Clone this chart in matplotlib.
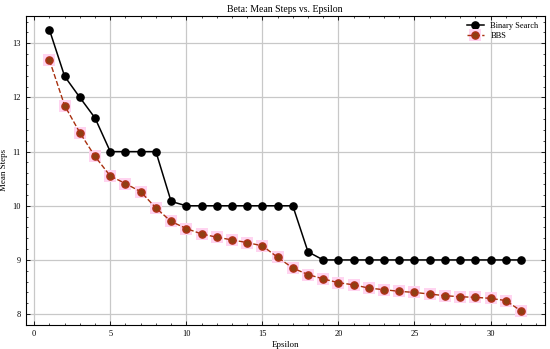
import numpy as np
import matplotlib.pyplot as plt
from matplotlib.legend_handler import HandlerTuple

epsilon = list(range(1, 33))
binary_search = [13.25, 12.39, 12.0, 11.62, 11.0, 11.0, 11.0, 11.0, 10.08, 10.0,
                 10.0, 10.0, 10.0, 10.0, 10.0, 10.0, 10.0, 9.15, 9.0, 9.0,
                 9.0, 9.0, 9.0, 9.0, 9.0, 9.0, 9.0, 9.0, 9.0, 9.0, 9.0, 9.0]
bbs = [12.69, 11.85, 11.35, 10.91, 10.55, 10.41, 10.26, 9.96, 9.71, 9.58,
       9.48, 9.42, 9.37, 9.32, 9.26, 9.05, 8.85, 8.73, 8.65, 8.58,
       8.54, 8.48, 8.45, 8.42, 8.40, 8.37, 8.34, 8.32, 8.31, 8.29, 8.25, 8.06]

plt.rcParams['font.family'] = ['Liberation Serif', 'DejaVu Serif']
plt.rcParams['font.size'] = 6.5

fig = plt.figure(figsize=(5.5, 3.49), dpi=100)
ax = fig.add_axes([0.047, 0.069, 0.943, 0.886])

# binary search
bs_line, = ax.plot(epsilon, binary_search, color='black', marker='o', markersize=5.2,
                   linewidth=1.1, label='Binary Search', zorder=3)

# BBS, with the pale square halo seen behind each marker
halo, = ax.plot(epsilon, bbs, linestyle='none', marker='s', markersize=9,
                markeredgewidth=0, color='#ffd4f0', zorder=2)
bbs_line, = ax.plot(epsilon, bbs, color='#a8300f', marker='o', markersize=5.2,
                    markerfacecolor='#8f3f12', markeredgecolor='#b03018',
                    linestyle='--', linewidth=1.0, label='BBS', zorder=3)

ax.set_title('Beta: Mean Steps vs. Epsilon', fontsize=7, pad=3)
ax.set_xlabel('Epsilon', fontsize=6.5, labelpad=2)
ax.set_ylabel('Mean Steps', fontsize=6.5, labelpad=3)

ax.set_xticks(np.arange(0, 31, 5))
ax.set_xticks(np.arange(0, 34, 1), minor=True)
ax.set_yticks(np.arange(8, 14, 1))
ax.set_yticks(np.arange(7.8, 13.6, 0.2), minor=True)

ax.tick_params(which='both', direction='in', top=True, right=True, labelsize=6)
ax.tick_params(which='major', length=3, width=0.6)
ax.tick_params(which='minor', length=1.5, width=0.5)
ax.grid(True, color='#c8c8c8', linewidth=0.9)
ax.set_axisbelow(True)
for s in ax.spines.values():
    s.set_linewidth(0.8)

ax.legend([bs_line, (halo, bbs_line)], ['Binary Search', 'BBS'],
          handler_map={tuple: HandlerTuple(ndivide=1, pad=0)},
          loc='upper right', frameon=False, fontsize=6, handlelength=2.0,
          borderaxespad=0.3, labelspacing=0.3)

fig.savefig('out.png', dpi=100)
